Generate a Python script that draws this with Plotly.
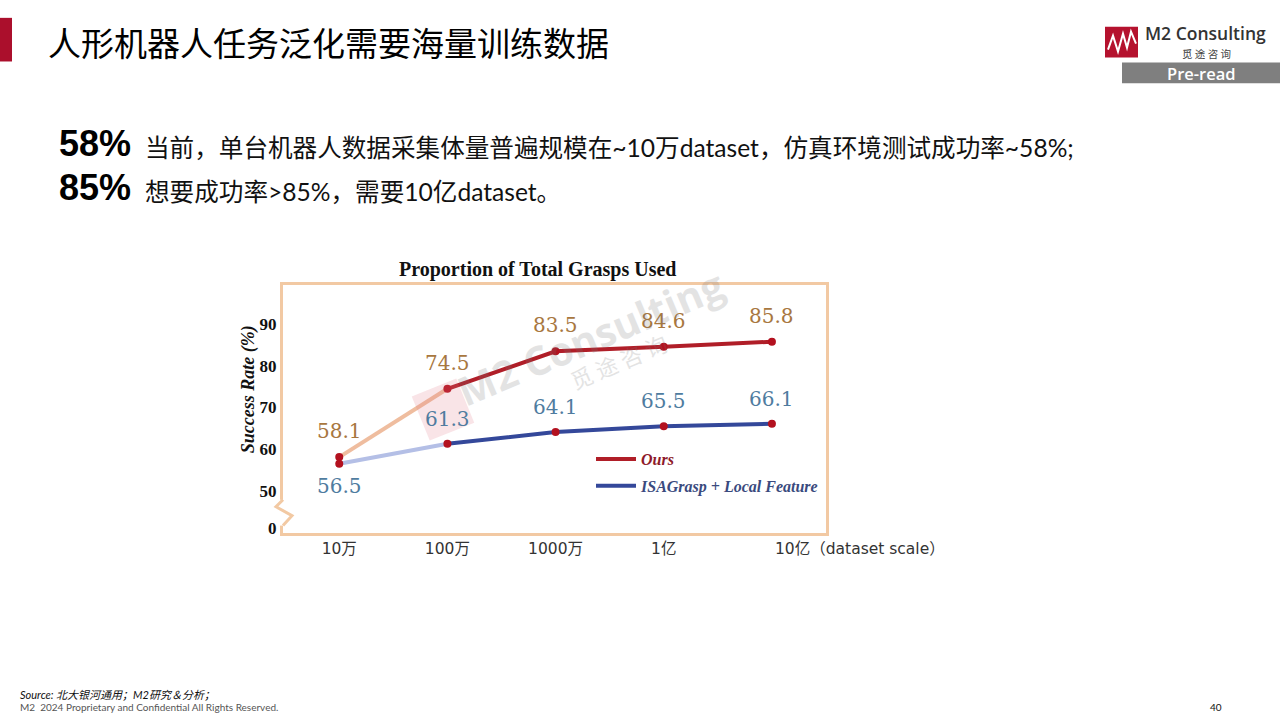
import math
import plotly.graph_objects as go

# ---------------- data ----------------
categories = ["10万", "100万", "1000万", "1亿", "10亿"]
last_label = "10亿（dataset scale）"
ours = [58.1, 74.5, 83.5, 84.6, 85.8]
isagrasp = [56.5, 61.3, 64.1, 65.5, 66.1]
ytick_vals = [41, 50, 60, 70, 80, 90]
ytick_text = ["0", "50", "60", "70", "80", "90"]

W, H = 1280, 720
def px(x):
    return x / W
def py(y):
    return 1 - y / H

RED = "#b01e28"
RED_LIGHT = "#efbd9f"
BLUE = "#34489a"
BLUE_LIGHT = "#b4bfe6"
MARK = "#b3111f"
FRAME = "#f2c9a3"
SERIF = "Liberation Serif, Times New Roman, serif"
NUMSERIF = "DejaVu Serif, serif"
SANS = "Lato, Noto Sans CJK SC, sans-serif"
WIDE = "DejaVu Sans, Noto Sans CJK SC, sans-serif"
CJK = "Noto Sans CJK SC, sans-serif"

xs = list(range(len(categories)))

fig = go.Figure()

# faint first segments (gradient start), then main lines
fig.add_trace(go.Scatter(x=xs[:2], y=ours[:2], mode="lines",
                         line=dict(color=RED_LIGHT, width=4), showlegend=False, hoverinfo="skip"))
fig.add_trace(go.Scatter(x=xs[1:], y=ours[1:], mode="lines",
                         line=dict(color=RED, width=4),
                         name="<b><i><span style='color:#8e1a2a'>Ours</span></i></b>",
                         legend="legend"))
fig.add_trace(go.Scatter(x=xs[:2], y=isagrasp[:2], mode="lines",
                         line=dict(color=BLUE_LIGHT, width=4), showlegend=False, hoverinfo="skip"))
fig.add_trace(go.Scatter(x=xs[1:], y=isagrasp[1:], mode="lines",
                         line=dict(color=BLUE, width=4),
                         name="<b><i><span style='color:#3a4a7e'>ISAGrasp + Local Feature</span></i></b>",
                         legend="legend2"))
# markers
fig.add_trace(go.Scatter(x=xs, y=ours, mode="markers",
                         marker=dict(color=MARK, size=8), showlegend=False))
fig.add_trace(go.Scatter(x=xs, y=isagrasp, mode="markers",
                         marker=dict(color=MARK, size=8), showlegend=False))

annotations = []
# data labels
for i, v in enumerate(ours):
    annotations.append(dict(x=xs[i], y=v, xref="x", yref="y", text=f"{v}", showarrow=False,
                            yshift=26, font=dict(family=NUMSERIF, size=20, color="#a8773f")))
for i, v in enumerate(isagrasp):
    annotations.append(dict(x=xs[i], y=v, xref="x", yref="y", text=f"{v}", showarrow=False,
                            yshift=(-22 if i == 0 else 25),
                            font=dict(family=NUMSERIF, size=20, color="#4f7c9f")))
# last x label
annotations.append(dict(x=xs[-1], y=py(554), xref="x", yref="paper", text=last_label,
                        showarrow=False, xanchor="left", yanchor="middle", xshift=1,
                        font=dict(family=WIDE, size=15.5, color="#333")))
# chart title
annotations.append(dict(x=px(537), y=py(272), xref="paper", yref="paper",
                        text="<b>Proportion of Total Grasps Used</b>", showarrow=False,
                        font=dict(family=SERIF, size=20, color="#111")))
# y axis title
annotations.append(dict(x=px(236), y=py(393), xref="paper", yref="paper", textangle=-90,
                        text="<b><i>Success Rate (%)</i></b>", showarrow=False,
                        font=dict(family=SERIF, size=18, color="#111")))
# watermark
annotations.append(dict(x=px(590), y=py(340), xref="paper", yref="paper", textangle=-23,
                        text="<b>M2 Consulting</b>", showarrow=False, opacity=0.2,
                        font=dict(family="Open Sans, sans-serif", size=40, color="#777")))
annotations.append(dict(x=px(618), y=py(364), xref="paper", yref="paper", textangle=-23,
                        text="觅 途 咨 询", showarrow=False, opacity=0.2,
                        font=dict(family=CJK, size=22, color="#777")))

# slide title & header
annotations.append(dict(x=px(46), y=py(42), xref="paper", yref="paper", xanchor="left",
                        yanchor="middle", text="人形机器人任务泛化需要海量训练数据", showarrow=False,
                        font=dict(family=CJK, size=33, color="#000")))
annotations.append(dict(x=px(1144), y=py(33), xref="paper", yref="paper", xanchor="left",
                        yanchor="middle", text="M2 Consulting", showarrow=False, borderpad=0,
                        font=dict(family="Open Sans, sans-serif", size=17.5, color="#333", weight=600)))
annotations.append(dict(x=px(1206), y=py(54), xref="paper", yref="paper", xanchor="center",
                        yanchor="middle", text="觅 途 咨 询", showarrow=False, borderpad=0,
                        font=dict(family=CJK, size=10.5, color="#444")))
annotations.append(dict(x=px(1201), y=py(74), xref="paper", yref="paper", xanchor="center",
                        yanchor="middle", text="Pre-read", showarrow=False, borderpad=0,
                        font=dict(family="Open Sans, sans-serif", size=16.5, color="#fff", weight=600)))

# body text
annotations.append(dict(x=px(57), y=py(145), xref="paper", yref="paper", xanchor="left",
                        yanchor="middle", text="<b>58%</b>", showarrow=False,
                        font=dict(family="Liberation Sans, sans-serif", size=36, color="#000")))
annotations.append(dict(x=px(57), y=py(189), xref="paper", yref="paper", xanchor="left",
                        yanchor="middle", text="<b>85%</b>", showarrow=False,
                        font=dict(family="Liberation Sans, sans-serif", size=36, color="#000")))
annotations.append(dict(x=px(143), y=py(149), xref="paper", yref="paper", xanchor="left",
                        yanchor="middle",
                        text="当前，单台机器人数据采集体量普遍规模在~10万dataset，仿真环境测试成功率~58%;",
                        showarrow=False, font=dict(family=SANS, size=24.6, color="#111")))
annotations.append(dict(x=px(143), y=py(193), xref="paper", yref="paper", xanchor="left",
                        yanchor="middle", text="想要成功率>85%，需要10亿dataset。",
                        showarrow=False, font=dict(family=SANS, size=24.6, color="#111")))

# footer
annotations.append(dict(x=px(18), y=py(700), xref="paper", yref="paper", xanchor="left",
                        yanchor="middle", text="<i>Source: 北大银河通用；M2研究＆分析；</i>",
                        showarrow=False, font=dict(family=SANS, size=11, color="#111")))
annotations.append(dict(x=px(18), y=py(713), xref="paper", yref="paper", xanchor="left",
                        yanchor="middle", text="M2  2024 Proprietary and Confidential All Rights Reserved.",
                        showarrow=False, font=dict(family=SANS, size=10, color="#555")))
annotations.append(dict(x=px(1216), y=py(713), xref="paper", yref="paper", xanchor="center",
                        yanchor="middle", text="40", showarrow=False,
                        font=dict(family=SANS, size=10, color="#111")))

shapes = []
# left red bar
shapes.append(dict(type="rect", xref="paper", yref="paper", x0=0, x1=px(12), y0=py(62), y1=py(18),
                   fillcolor="#ab0f2c", line=dict(width=0)))
# logo square
shapes.append(dict(type="rect", xref="paper", yref="paper", x0=px(1105), x1=px(1138),
                   y0=py(58), y1=py(27), fillcolor="#b5122e", line=dict(width=0)))
zig = [(1108, 50), (1113, 36), (1118, 52), (1123, 34), (1127, 48), (1131, 32), (1136, 44)]
shapes.append(dict(type="path", xref="paper", yref="paper",
                   path="M" + " L".join(f"{px(a)},{py(b)}" for a, b in zig),
                   line=dict(color="#fff", width=2)))
# pre-read bar
shapes.append(dict(type="rect", xref="paper", yref="paper", x0=px(1122), x1=1, y0=py(84), y1=py(63),
                   fillcolor="#7f7f7f", line=dict(width=0)))
# watermark logo (rotated square)
cx, cy, s, ang = 443, 413, 24, math.radians(-22)
corners = []
for dx, dy in [(-s, -s), (s, -s), (s, s), (-s, s)]:
    rx = dx * math.cos(ang) - dy * math.sin(ang)
    ry = dx * math.sin(ang) + dy * math.cos(ang)
    corners.append((cx + rx, cy + ry))
shapes.append(dict(type="path", xref="paper", yref="paper",
                   path="M" + " L".join(f"{px(a)},{py(b)}" for a, b in corners) + " Z",
                   fillcolor="rgba(225,120,135,0.2)", line=dict(width=0)))
# axis break zigzag
shapes.append(dict(type="rect", xref="paper", yref="paper", x0=px(280), x1=px(286),
                   y0=py(530), y1=py(504), fillcolor="#fff", line=dict(width=0), layer="above"))
brk = [(283, 504), (276, 511), (292, 520), (283, 530)]
shapes.append(dict(type="path", xref="paper", yref="paper", layer="above",
                   path="M" + " L".join(f"{px(a)},{py(b)}" for a, b in brk),
                   line=dict(color=FRAME, width=3)))

fig.update_layout(
    width=W, height=H, margin=dict(l=0, r=0, t=0, b=0),
    paper_bgcolor="#fff", plot_bgcolor="#fff",
    xaxis=dict(domain=[px(283), px(826)], range=[-0.52, 4.5],
               tickvals=xs[:4], ticktext=categories[:4],
               tickfont=dict(family=WIDE, size=15.5, color="#333"),
               showline=True, mirror=True, linecolor=FRAME, linewidth=3,
               showgrid=False, zeroline=False, ticks=""),
    yaxis=dict(domain=[py(537), py(287)], range=[40, 99.5],
               tickvals=ytick_vals, ticktext=[f"<b>{t}</b>" for t in ytick_text],
               tickfont=dict(family=SERIF, size=17, color="#111"),
               showline=True, mirror=True, linecolor=FRAME, linewidth=3,
               showgrid=False, zeroline=False, ticks=""),
    legend=dict(x=px(591), y=py(463), xanchor="left", yanchor="middle", bgcolor="rgba(0,0,0,0)",
                font=dict(family=SERIF, size=16), itemwidth=40),
    legend2=dict(x=px(591), y=py(490), xanchor="left", yanchor="middle", bgcolor="rgba(0,0,0,0)",
                 font=dict(family=SERIF, size=16), itemwidth=40),
    annotations=annotations, shapes=shapes, showlegend=True,
)

fig.write_html("out.html")
